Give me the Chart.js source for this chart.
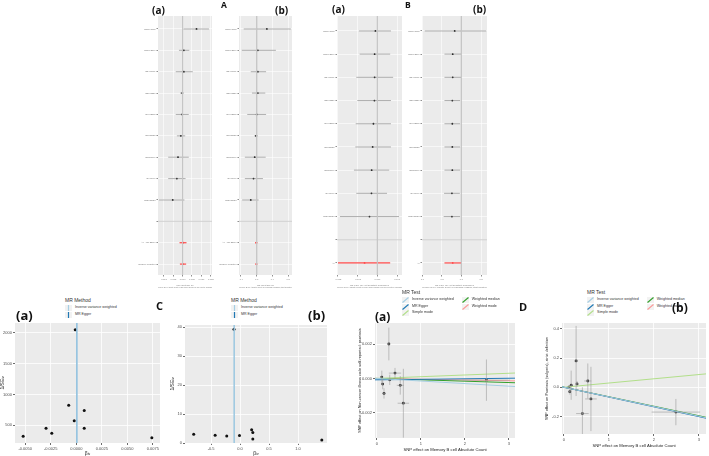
<!DOCTYPE html>
<html>
<head>
<meta charset="utf-8">
<script src="https://cdn.jsdelivr.net/npm/chart.js@4.4.1/dist/chart.umd.min.js"></script>
<style>
  body { margin: 0; width: 709px; height: 456px; background: #fff; position: relative; overflow: hidden; font-family: "Liberation Sans", Arial, sans-serif; }
  canvas { position: absolute; }
  .tag { position: absolute; font-family: "Open Sans", "Liberation Sans", sans-serif; font-weight: bold; color: #111; line-height: 1; white-space: nowrap; }
  .leg { position: absolute; color: #333; white-space: nowrap; line-height: 1; }
  .leg .t { font-size: 5px; margin-bottom: 2px; }
  .leg .row { display: flex; align-items: center; height: 6.5px; font-size: 3.6px; }
  .leg svg { margin-right: 3px; }
</style>
</head>
<body>
<script>
// ---------- data ----------
// top: single-SNP forest plots (A) and leave-one-out plots (B)
const snps = ['rs10197862', 'rs11692596', 'rs2476601', 'rs3771336', 'rs4672505', 'rs6738825', 'rs7556897', 'rs917997', 'rs72928038'];
const rowsA = snps.concat(['', 'All - MR Egger', 'All - Inverse variance weighted']);
const rowsB = snps.concat(['', 'All']);

const aaEst = [0.0074, 0.0007, 0.0007, -0.0002, -0.0002, -0.0009, -0.0024, -0.0030, -0.0052, null, 0.0003, 0.0002];
const aaLo  = [0.0005, -0.0019, -0.0036, -0.0012, -0.0036, -0.0030, -0.0076, -0.0076, -0.0125, null, -0.0016, -0.0014];
const aaHi  = [0.0140, 0.0036, 0.0054, 0.0007, 0.0033, 0.0014, 0.0033, 0.0016, 0.0010, null, 0.0021, 0.0019];

const abEst = [0.26, 0.03, 0.03, 0.03, 0.00, -0.02, -0.05, -0.08, -0.15, null, -0.01, -0.01];
const abLo  = [-0.33, -0.38, -0.15, -0.12, -0.24, -0.06, -0.30, -0.30, -0.37, null, -0.04, -0.03];
const abHi  = [0.87, 0.49, 0.24, 0.22, 0.24, 0.03, 0.23, 0.16, 0.05, null, 0.02, 0.02];

const baEst = [-0.00010, -0.00014, -0.00014, -0.00015, -0.00020, -0.00024, -0.00029, -0.00030, -0.00040, null, -0.00065];
const baLo  = [-0.00094, -0.00090, -0.00107, -0.00102, -0.00110, -0.00112, -0.00119, -0.00107, -0.00190, null, -0.00200];
const baHi  = [0.00069, 0.00065, 0.00080, 0.00069, 0.00069, 0.00069, 0.00060, 0.00049, 0.00110, null, 0.00065];

const bbEst = [-0.17, -0.22, -0.22, -0.23, -0.23, -0.23, -0.23, -0.24, -0.24, null, -0.22];
const bbLo  = [-0.93, -0.43, -0.43, -0.43, -0.43, -0.43, -0.43, -0.44, -0.45, null, -0.43];
const bbHi  = [0.63, -0.01, -0.01, -0.03, -0.03, -0.03, -0.03, -0.04, -0.03, null, 0.00];

// bottom left: funnel plots
const funABeta = [-0.0001, -0.00074, 0.00078, -0.0002, -0.00296, 0.00078, -0.0024, -0.0052, 0.0074];
const funAInv  = [2050, 823, 740, 570, 450, 450, 370, 320, 295];
const funAIvw = 0.00008, funAEgger = 0.00005;

const funCBeta = [-0.80, -0.43, -0.23, -0.105, -0.01, 0.20, 0.22, 0.22, 1.41];
const funCInv  = [3.0, 2.7, 2.4, 39.2, 2.6, 4.6, 3.6, 1.4, 1.0];
const funCIvw = -0.10, funCEgger = -0.10;

// bottom right: scatter plots (exposure: Memory B cell Absolute Count)
const expBeta = [0.11, 0.13, 0.16, 0.27, 0.29, 0.41, 0.53, 0.60, 2.49];
const expSe   = [0.02, 0.02, 0.03, 0.03, 0.03, 0.14, 0.08, 0.13, 0.54];
const outABeta = [0.00008, -0.00033, -0.00087, 0.0020, -0.00008, 0.00031, -0.0004, -0.00144, -0.0001];
const outASe   = [0.00037, 0.0003, 0.0003, 0.00095, 0.0003, 0.0003, 0.00054, 0.0020, 0.0012];
const outBBeta = [0.0, -0.03, 0.014, 0.18, 0.023, -0.18, 0.043, -0.08, -0.17];
const outBSe   = [0.01, 0.02, 0.10, 0.24, 0.02, 0.18, 0.12, 0.22, 0.09];

const methods = ['Inverse variance weighted', 'MR Egger', 'Simple mode', 'Weighted median', 'Weighted mode'];
const methodColors = ['#A6CEE3', '#1F78B4', '#B2DF8A', '#33A02C', '#FB9A99'];
const slopeA = [-0.00015, 0.00003, 0.0001, -0.00008, -0.000045];
const interceptA = [0, -0.00008, 0, 0, 0];
const slopeB = [-0.066, -0.067, 0.029, -0.065, -0.066];
const interceptB = [0, 0, 0, 0, 0];

// ---------- helpers ----------
Chart.defaults.animation = false;
Chart.defaults.responsive = false;
Chart.defaults.devicePixelRatio = 1;
Chart.defaults.plugins.legend.display = false;
Chart.defaults.plugins.tooltip.enabled = false;
const FF = '"Liberation Sans", Arial, sans-serif';
Chart.defaults.font.family = FF;

const ggBg = {
  id: 'ggBg',
  beforeDraw(chart) {
    const a = chart.chartArea, ctx = chart.ctx;
    ctx.save();
    ctx.fillStyle = '#EBEBEB';
    ctx.fillRect(a.left, a.top, a.right - a.left, a.bottom - a.top);
    ctx.restore();
  }
};

function mkCanvas(L, T, R, B, yw, xh, padR, padT) {
  const c = document.createElement('canvas');
  c.width = (R - L) + yw + padR;
  c.height = (B - T) + xh + padT;
  c.style.left = (L - yw) + 'px';
  c.style.top = (T - padT) + 'px';
  document.body.appendChild(c);
  return c;
}

function axis(pos, min, max, ticks, o) {
  return {
    type: 'linear', position: pos, min: min, max: max, reverse: !!o.reverse,
    afterBuildTicks: s => { s.ticks = ticks.map(v => ({ value: v })); },
    afterFit: s => { if (pos === 'left') s.width = o.size; else s.height = o.size; },
    grid: { color: '#FFFFFF', lineWidth: o.gw || 0.8, tickColor: '#444', tickLength: o.tl || 2 },
    border: { display: false },
    ticks: { font: { size: o.fs, family: FF }, color: o.tc || '#4D4D4D', padding: 1, autoSkip: false, maxRotation: 0, callback: o.fmt },
    title: o.title ? { display: true, text: o.title, font: { size: o.ts, family: FF }, color: o.tc || '#222', padding: { top: o.tpad || 0, bottom: 0 } } : { display: false }
  };
}

function seg(p, color, w) {
  return { type: 'line', data: p, borderColor: color, borderWidth: w, pointRadius: 0, fill: false, tension: 0 };
}

function forest(box, rows, est, lo, hi, xmin, xmax, xticks, fmt, ymin, ymax, xTitle) {
  const c = mkCanvas(box.L, box.T, box.R, box.B, 20, 14, 3, 3);
  const sep = rows.indexOf('') + 1;
  const ds = [];
  ds.push(seg([{ x: 0, y: ymin }, { x: 0, y: ymax }], '#C4C4C4', 0.7));
  ds.push(seg([{ x: xmin, y: sep }, { x: xmax, y: sep }], '#BEBEBE', 0.7));
  rows.forEach((r, i) => {
    if (est[i] === null) return;
    const col = r.startsWith('All') ? '#FF4A4A' : '#666';
    ds.push(seg([{ x: lo[i], y: i + 1 }, { x: hi[i], y: i + 1 }], col, r.startsWith('All') ? 1.2 : 0.5));
  });
  ds.push({
    type: 'scatter',
    data: est.map((e, i) => e === null ? null : { x: e, y: i + 1 }).filter(p => p),
    pointRadius: 0.9, pointBorderWidth: 0,
    pointBackgroundColor: rows.filter((r, i) => est[i] !== null).map(r => r.startsWith('All') ? '#FF4A4A' : '#111')
  });
  new Chart(c, {
    type: 'scatter',
    data: { datasets: ds },
    options: {
      layout: { padding: { top: 3, right: 3, left: 0, bottom: 0 } },
      scales: {
        x: axis('bottom', xmin, xmax, xticks, { size: 14, fs: 2.3, fmt: fmt, title: xTitle, ts: 2.2, tl: 1.5, gw: 0.6, tc: '#777' }),
        y: axis('left', ymin, ymax, rows.map((r, i) => i + 1), { size: 20, fs: 2.2, reverse: true, tl: 1.5, gw: 0.6, tc: '#777', fmt: v => rows[Math.round(v) - 1] })
      }
    },
    plugins: [ggBg]
  });
}

function funnel(box, beta, inv, ivw, egger, xr, yr, xt, yt, fmtX, yw) {
  const c = mkCanvas(box.L, box.T, box.R, box.B, yw, 14, 4, 4);
  const ds = [
    seg([{ x: ivw, y: yr[0] }, { x: ivw, y: yr[1] }], methodColors[0], 1.2),
    seg([{ x: egger, y: yr[0] }, { x: egger, y: yr[1] }], '#5FA3D3', 1),
    { type: 'scatter', data: beta.map((b, i) => ({ x: b, y: inv[i] })), pointRadius: 1.5, pointBorderWidth: 0, pointBackgroundColor: '#111' }
  ];
  new Chart(c, {
    type: 'scatter',
    data: { datasets: ds },
    options: {
      layout: { padding: { top: 4, right: 4, left: 0, bottom: 0 } },
      scales: {
        x: axis('bottom', xr[0], xr[1], xt, { size: 14, fs: 4, fmt: fmtX, title: 'β\u1D62\u1D65', ts: 5 }),
        y: axis('left', yr[0], yr[1], yt, { size: yw, fs: 4, fmt: v => String(v), title: '1/SE\u1D62\u1D65', ts: 5 })
      }
    },
    plugins: [ggBg]
  });
}

function mrScatter(box, xb, xse, yb, yse, slopes, ints, xr, yr, xt, yt, fmtY, yTitle) {
  const c = mkCanvas(box.L, box.T, box.R, box.B, 17, 14, 4, 4);
  const ds = [];
  xb.forEach((x, i) => {
    ds.push(seg([{ x: x, y: yb[i] - yse[i] }, { x: x, y: yb[i] + yse[i] }], '#9A9A9A', 0.6));
    ds.push(seg([{ x: x - xse[i], y: yb[i] }, { x: x + xse[i], y: yb[i] }], '#9A9A9A', 0.6));
  });
  slopes.forEach((s, k) => {
    ds.push(seg([{ x: xr[0], y: ints[k] + s * xr[0] }, { x: xr[1], y: ints[k] + s * xr[1] }], methodColors[k], 1));
  });
  ds.push({ type: 'scatter', data: xb.map((x, i) => ({ x: x, y: yb[i] })), pointRadius: 1.4, pointBorderWidth: 0, pointBackgroundColor: '#111' });
  new Chart(c, {
    type: 'scatter',
    data: { datasets: ds },
    options: {
      layout: { padding: { top: 4, right: 4, left: 0, bottom: 0 } },
      scales: {
        x: axis('bottom', xr[0], xr[1], xt, { size: 14, fs: 4, fmt: v => String(v), title: 'SNP effect on Memory B cell Absolute Count', ts: 4.2 }),
        y: axis('left', yr[0], yr[1], yt, { size: 17, fs: 4, fmt: fmtY, title: yTitle, ts: 3.8 })
      }
    },
    plugins: [ggBg]
  });
}

function tag(text, x, y, size) {
  const d = document.createElement('div');
  d.className = 'tag';
  d.textContent = text;
  d.style.left = x + 'px'; d.style.top = y + 'px'; d.style.fontSize = size + 'px';
  document.body.appendChild(d);
}

function keySvg(color, vertical) {
  const l = vertical ? '<line x1="3.5" y1="0" x2="3.5" y2="6" stroke="' + color + '" stroke-width="1.2"/>'
                     : '<line x1="0.5" y1="5.5" x2="6.5" y2="0.5" stroke="' + color + '" stroke-width="1.1"/>';
  return '<svg width="7" height="6"><rect width="7" height="6" fill="#F2F2F2"/>' + l + '</svg>';
}

function legend(x, y, title, names, colors, vertical, cols) {
  const d = document.createElement('div');
  d.className = 'leg';
  d.style.left = x + 'px'; d.style.top = y + 'px';
  let html = '<div class="t">' + title + '</div><div style="display:flex">';
  const per = Math.ceil(names.length / cols);
  for (let c = 0; c < cols; c++) {
    html += '<div style="margin-right:8px">';
    for (let i = c * per; i < Math.min(names.length, (c + 1) * per); i++) {
      html += '<div class="row">' + keySvg(colors[i], vertical) + names[i] + '</div>';
    }
    html += '</div>';
  }
  d.innerHTML = html + '</div>';
  document.body.appendChild(d);
}

// ---------- top row ----------
const titleA_a = ['MR effect size for', "'Memory B cell Absolute Count' on 'Non-cancer illness code self-reported: psoriasis'"];
const titleA_b = ['MR effect size for', "'Memory B cell Absolute Count' on 'Psoriasis (vulgaris), strict definition'"];
const titleB_a = ['MR leave-one-out sensitivity analysis for', "'Memory B cell Absolute Count' on 'Non-cancer illness code self-reported: psoriasis'"];
const titleB_b = ['MR leave-one-out sensitivity analysis for', "'Memory B cell Absolute Count' on 'Psoriasis (vulgaris), strict definition'"];

forest({ L: 158, T: 15, R: 213, B: 275 }, rowsA, aaEst, aaLo, aaHi, -0.013, 0.0156,
  [-0.010, -0.005, 0, 0.005, 0.010, 0.015], v => v.toFixed(3), 0.394, 12.51, titleA_a);
forest({ L: 239, T: 15, R: 293, B: 275 }, rowsA, abEst, abLo, abHi, -0.45, 0.9,
  [-0.4, 0, 0.4, 0.8], v => v.toFixed(1), 0.394, 12.51, titleA_b);
forest({ L: 337, T: 15, R: 403, B: 275 }, rowsB, baEst, baLo, baHi, -0.00205, 0.00125,
  [-0.002, -0.001, 0, 0.001], v => v.toFixed(3), 0.356, 11.52, titleB_a);
forest({ L: 422, T: 15, R: 488, B: 275 }, rowsB, bbEst, bbLo, bbHi, -1.0, 0.65,
  [-1.0, -0.5, 0, 0.5], v => v.toFixed(1), 0.356, 11.52, titleB_b);

tag('(a)', 152, 5, 10);
tag('A', 221, 1, 8.5);
tag('(b)', 275, 5, 10);
tag('(a)', 332, 4, 10);
tag('B', 405, 1, 8.5);
tag('(b)', 473, 4, 10);

// ---------- bottom row ----------
funnel({ L: 15, T: 323, R: 160, B: 443 }, funABeta, funAInv, funAIvw, funAEgger,
  [-0.0060, 0.0082], [210, 2161], [-0.005, -0.0025, 0, 0.0025, 0.005, 0.0075], [500, 1000, 1500, 2000],
  v => v.toFixed(4), 15);
funnel({ L: 185, T: 325, R: 327, B: 443 }, funCBeta, funCInv, funCIvw, funCEgger,
  [-0.95, 1.50], [0, 40.7], [-0.5, 0, 0.5, 1.0], [0, 10, 20, 30, 40],
  v => v.toFixed(1), 15);
mrScatter({ L: 375, T: 323, R: 515, B: 438 }, expBeta, expSe, outABeta, outASe, slopeA, interceptA,
  [-0.045, 3.14], [-0.00346, 0.00322], [0, 1, 2, 3], [-0.002, 0, 0.002], v => v.toFixed(3),
  'SNP effect on Non-cancer illness code self-reported: psoriasis');
mrScatter({ L: 562, T: 323, R: 706, B: 434 }, expBeta, expSe, outBBeta, outBSe, slopeB, interceptB,
  [-0.044, 3.16], [-0.32, 0.44], [0, 1, 2, 3], [-0.2, 0, 0.2, 0.4], v => v.toFixed(1),
  'SNP effect on Psoriasis (vulgaris), strict definition');

legend(65, 298, 'MR Method', methods.slice(0, 2), methodColors.slice(0, 2), true, 1);
legend(231, 298, 'MR Method', methods.slice(0, 2), methodColors.slice(0, 2), true, 1);
legend(402, 290, 'MR Test', methods, methodColors, false, 2);
legend(587, 290, 'MR Test', methods, methodColors, false, 2);

tag('(a)', 16, 309, 13);
tag('C', 156, 300, 11);
tag('(b)', 308, 309, 13);
tag('(a)', 375, 311, 12);
tag('D', 519, 301, 11);
tag('(b)', 672, 302, 12);
</script>
</body>
</html>
